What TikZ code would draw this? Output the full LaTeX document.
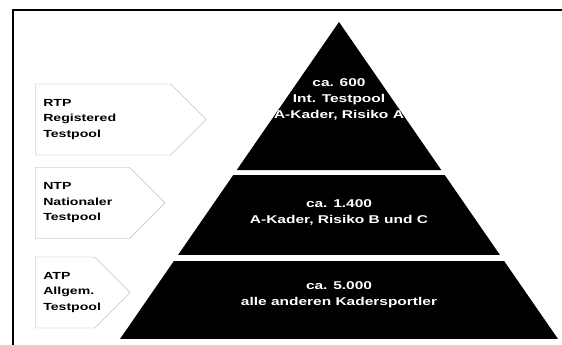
\documentclass[tikz,border=0pt]{standalone}
\usepackage{fontspec}
\setmainfont{Liberation Sans}
\usetikzlibrary{positioning, shapes.symbols, calc}

\tikzset{
  pool/.style={signal, signal to=east, signal pointer angle=90, draw=gray!65, fill=white, inner sep=0pt, minimum height=71pt},
  pooltext/.style={anchor=west, align=left, inner sep=0pt, xscale=1.37, font=\fontsize{10.3}{15.5}\selectfont\bfseries},
  tier/.style={fill=black},
  tiertext/.style={text=white, align=center, inner sep=0pt, xscale=1.37, font=\fontsize{11.3}{16}\selectfont\bfseries},
}

\begin{document}
\begin{tikzpicture}[x=1pt, y=1pt]
    \useasboundingbox (0,0) rectangle (562,345);
    \draw [line width=2pt] (562,335) -- (13,335) -- (13,0);

    % pyramid, cut into three tiers
    \coordinate (apex) at (339,323);
    \coordinate (bl) at (120,6);
    \coordinate (br) at (558,6);
    \fill [tier] (apex) -- ($(apex)!0.467!(bl)$) -- ($(apex)!0.467!(br)$) -- cycle;
    \fill [tier] ($(apex)!0.483!(bl)$) -- ($(apex)!0.483!(br)$) -- ($(apex)!0.735!(br)$) -- ($(apex)!0.735!(bl)$) -- cycle;
    \fill [tier] ($(apex)!0.754!(bl)$) -- ($(apex)!0.754!(br)$) -- (br) -- (bl) -- cycle;

    \node (int) [tiertext] at (339,246) {ca. 600\\Int. Testpool\\A-Kader, Risiko A};
    \node (nat) [tiertext] at (339,132.5) {ca. 1.400\\A-Kader, Risiko B und C};
    \node (all) [tiertext] at (339,50) {ca. 5.000\\alle anderen Kadersportler};

    % pools on the left
    \node (rtp) [pool, minimum width=171pt, anchor=west] at (35,225.5) {};
    \node (ntp) [pool, minimum width=130pt, anchor=west] at (35,142) {};
    \node (atp) [pool, minimum width=95pt, anchor=west] at (35,52.5) {};
    \node (rtptext) [pooltext] at ([xshift=8pt]rtp.west) {RTP\\Registered\\Testpool};
    \node (ntptext) [pooltext] at ([xshift=8pt]ntp.west) {NTP\\Nationaler\\Testpool};
    \node (atptext) [pooltext] at ([xshift=8pt]atp.west) {ATP\\Allgem.\\Testpool};
\end{tikzpicture}
\end{document}
